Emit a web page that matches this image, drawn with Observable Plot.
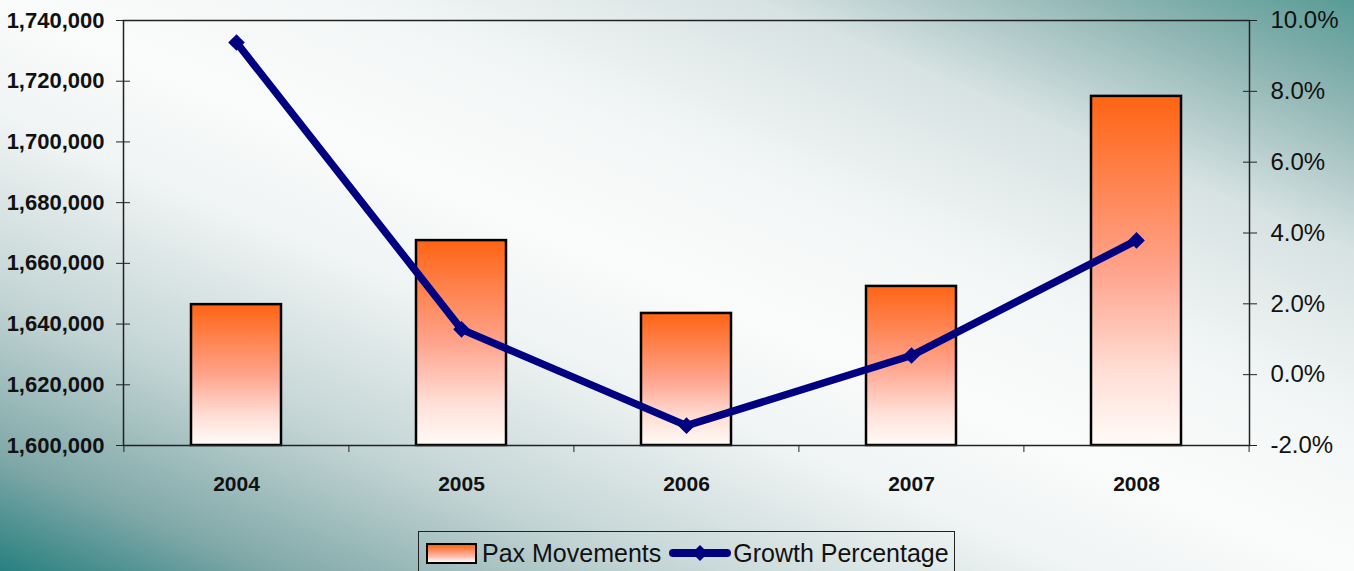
<!DOCTYPE html>
<html>
<head>
<meta charset="utf-8">
<script src="https://cdn.jsdelivr.net/npm/d3@7"></script>
<script src="https://cdn.jsdelivr.net/npm/@observablehq/plot@0.6"></script>
<style>
  html, body { margin: 0; padding: 0; }
  body {
    width: 1354px; height: 571px; overflow: hidden;
    font-family: "Liberation Sans", Arial, sans-serif;
    background: linear-gradient(to top right,
      rgb(40,128,128) 0%, rgb(128,168,168) 10%, rgb(195,212,212) 24%,
      rgb(240,244,244) 40%, rgb(250,251,251) 50%, rgb(244,247,247) 62%,
      rgb(215,226,226) 78%, rgb(140,180,178) 91%, rgb(88,155,150) 100%);
  }
  #chart svg { display: block; }
  #legend {
    margin-left: 418px; margin-top: 6px; width: 537px; height: 50px;
    border: 1px solid #222; box-sizing: border-box;
    display: flex; align-items: flex-start; padding: 10px 0 0 7px;
    font-size: 25px; color: #111; line-height: 22px;
  }
  #legend .sw {
    width: 47px; height: 17px; border: 2px solid #000;
    background: linear-gradient(to bottom, #ff6414, #ffb09c 60%, #fff8f5);
    margin-right: 5px;
  }
  #legend .item { display: flex; align-items: center; }
</style>
</head>
<body>
<div id="chart"></div>
<div id="legend">
  <div class="item"><div class="sw"></div><span>Pax Movements</span></div>
  <div class="item" style="margin-left:8px">
    <svg width="62" height="22" style="margin-right:2px"><line x1="4" y1="11" x2="58" y2="11" stroke="#000080" stroke-width="8" stroke-linecap="round"/><path d="M31,3 L39,11 L31,19 L23,11 Z" fill="#000080"/></svg>
    <span>Growth Percentage</span>
  </div>
</div>
<script>
const years = ["2004", "2005", "2006", "2007", "2008"];
const pax = [1646400, 1667500, 1643500, 1652400, 1715000];
const growth = [9.38, 1.28, -1.44, 0.54, 3.79];
const paxTicks = [1600000, 1620000, 1640000, 1660000, 1680000, 1700000, 1720000, 1740000];
const growthTicks = [-2, 0, 2, 4, 6, 8, 10];

const paxDomain = [1600000, 1740000];
const growthDomain = [-2, 10];
const toY = g => paxDomain[0] + (g - growthDomain[0]) / (growthDomain[1] - growthDomain[0]) * (paxDomain[1] - paxDomain[0]);
const fromY = v => growthDomain[0] + (v - paxDomain[0]) / (paxDomain[1] - paxDomain[0]) * (growthDomain[1] - growthDomain[0]);
const pct = v => { const r = Math.round(fromY(v) * 10) / 10; return (Math.abs(r) < 1e-9 ? 0 : r).toFixed(1) + "%"; };

const data = years.map((y, i) => ({year: y, pax: pax[i], growth: growth[i], gy: toY(growth[i])}));

const W = 1354, H = 525, mL = 123, mR = 105, mT = 20, mB = 80;
const step = (W - mL - mR) / years.length;

const chart = Plot.plot({
  width: W, height: H,
  marginLeft: mL, marginRight: mR, marginTop: mT, marginBottom: mB,
  style: {background: "transparent", fontFamily: "Liberation Sans, Arial, sans-serif", color: "#111"},
  x: {type: "band", domain: years, paddingInner: 0.6, paddingOuter: 0.3},
  y: {domain: paxDomain},
  marks: [
    Plot.barY(data, {x: "year", y1: paxDomain[0], y2: "pax", fill: "url(#barGrad)", stroke: "#000", strokeWidth: 2.5}),
    Plot.frame({stroke: "#222", strokeWidth: 1.5}),
    // left axis: crossing ticks + bold labels
    Plot.axisY({ticks: paxTicks, tickSize: 14, dx: 7, fill: "none", stroke: "#222", label: null}),
    Plot.axisY({ticks: paxTicks, tickSize: 7, tickPadding: 12, stroke: "none", label: null,
      tickFormat: d3.format(","), fontSize: 22, fontWeight: "bold", fill: "#111"}),
    // right axis (growth %)
    Plot.axisY({anchor: "right", ticks: growthTicks.map(toY), tickSize: 14, dx: -7, fill: "none", stroke: "#222", label: null}),
    Plot.axisY({anchor: "right", ticks: growthTicks.map(toY), tickSize: 7, tickPadding: 14, stroke: "none", label: null,
      tickFormat: pct, fontSize: 24, fill: "#111"}),
    // x axis: boundary ticks + labels
    Plot.axisX({tickSize: 7, dx: -step / 2, fill: "none", stroke: "#222", label: null}),
    Plot.axisX([years[years.length - 1]], {tickSize: 7, dx: step / 2, fill: "none", stroke: "#222", label: null}),
    Plot.axisX({tickSize: 0, tickPadding: 31, stroke: "none", label: null, fontSize: 21, fontWeight: "bold", fill: "#111"}),
    // growth line
    Plot.line(data, {x: "year", y: "gy", stroke: "#000080", strokeWidth: 7.5, strokeLinejoin: "miter"}),
    Plot.dot(data, {x: "year", y: "gy", symbol: "diamond2", r: 7.5, fill: "#000080", stroke: "none"})
  ]
});

const svg = d3.select(chart);
const defs = svg.insert("defs", ":first-child");
const g = defs.append("linearGradient").attr("id", "barGrad").attr("x1", 0).attr("y1", 0).attr("x2", 0).attr("y2", 1);
g.append("stop").attr("offset", "0%").attr("stop-color", "#ff6414");
g.append("stop").attr("offset", "50%").attr("stop-color", "#ffa38c");
g.append("stop").attr("offset", "80%").attr("stop-color", "#ffe0d8");
g.append("stop").attr("offset", "100%").attr("stop-color", "#fffbf8");

document.getElementById("chart").appendChild(chart);
</script>
</body>
</html>
